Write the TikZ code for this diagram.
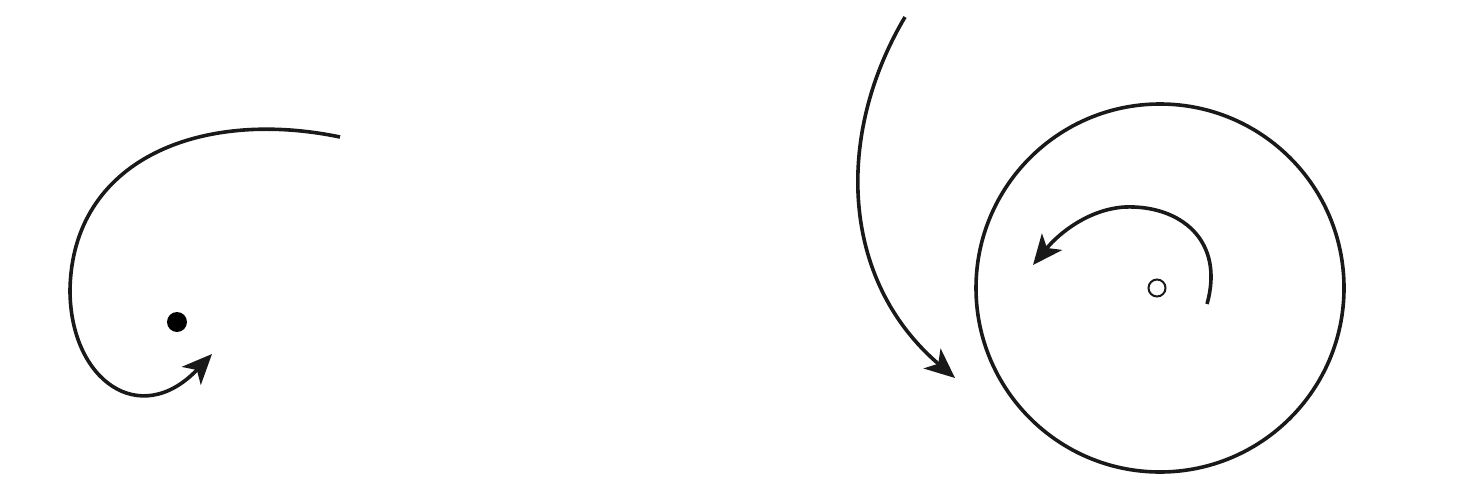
\documentclass[tikz,border=0pt]{standalone}
\usetikzlibrary{arrows.meta}
\begin{document}
\begin{tikzpicture}[x=1pt,y=-1pt,
  curve/.style={line width=3.6pt,draw=black!90,-{Stealth[length=30pt,width=26pt,inset=8pt]}}]
\useasboundingbox (0,0) rectangle (1472,487);
\node[circle,fill=black,inner sep=0pt,minimum size=20pt] (dot) at (177,322) {};
\coordinate (a1) at (340,137);
\coordinate (a2) at (212,354);
\draw[curve] (a1) .. controls (200,108) and (72,160) .. (70,290) .. controls (70,380) and (140,430) .. (a2);
\node[circle,draw=black!90,line width=3.6pt,minimum size=368pt,inner sep=0pt] (big) at (1160,288) {};
\node[circle,draw=black!90,line width=2pt,minimum size=17pt,inner sep=0pt] (small) at (1157,288) {};
\coordinate (b1) at (905,17);
\coordinate (b2) at (955,378);
\draw[curve] (b1) .. controls (835,135) and (840,280) .. (b2);
\coordinate (c1) at (1207,304);
\coordinate (c2) at (1033,265);
\draw[curve] (c1) .. controls (1225,240) and (1180,205) .. (1125,207) .. controls (1090,209) and (1060,232) .. (c2);
\end{tikzpicture}
\end{document}
